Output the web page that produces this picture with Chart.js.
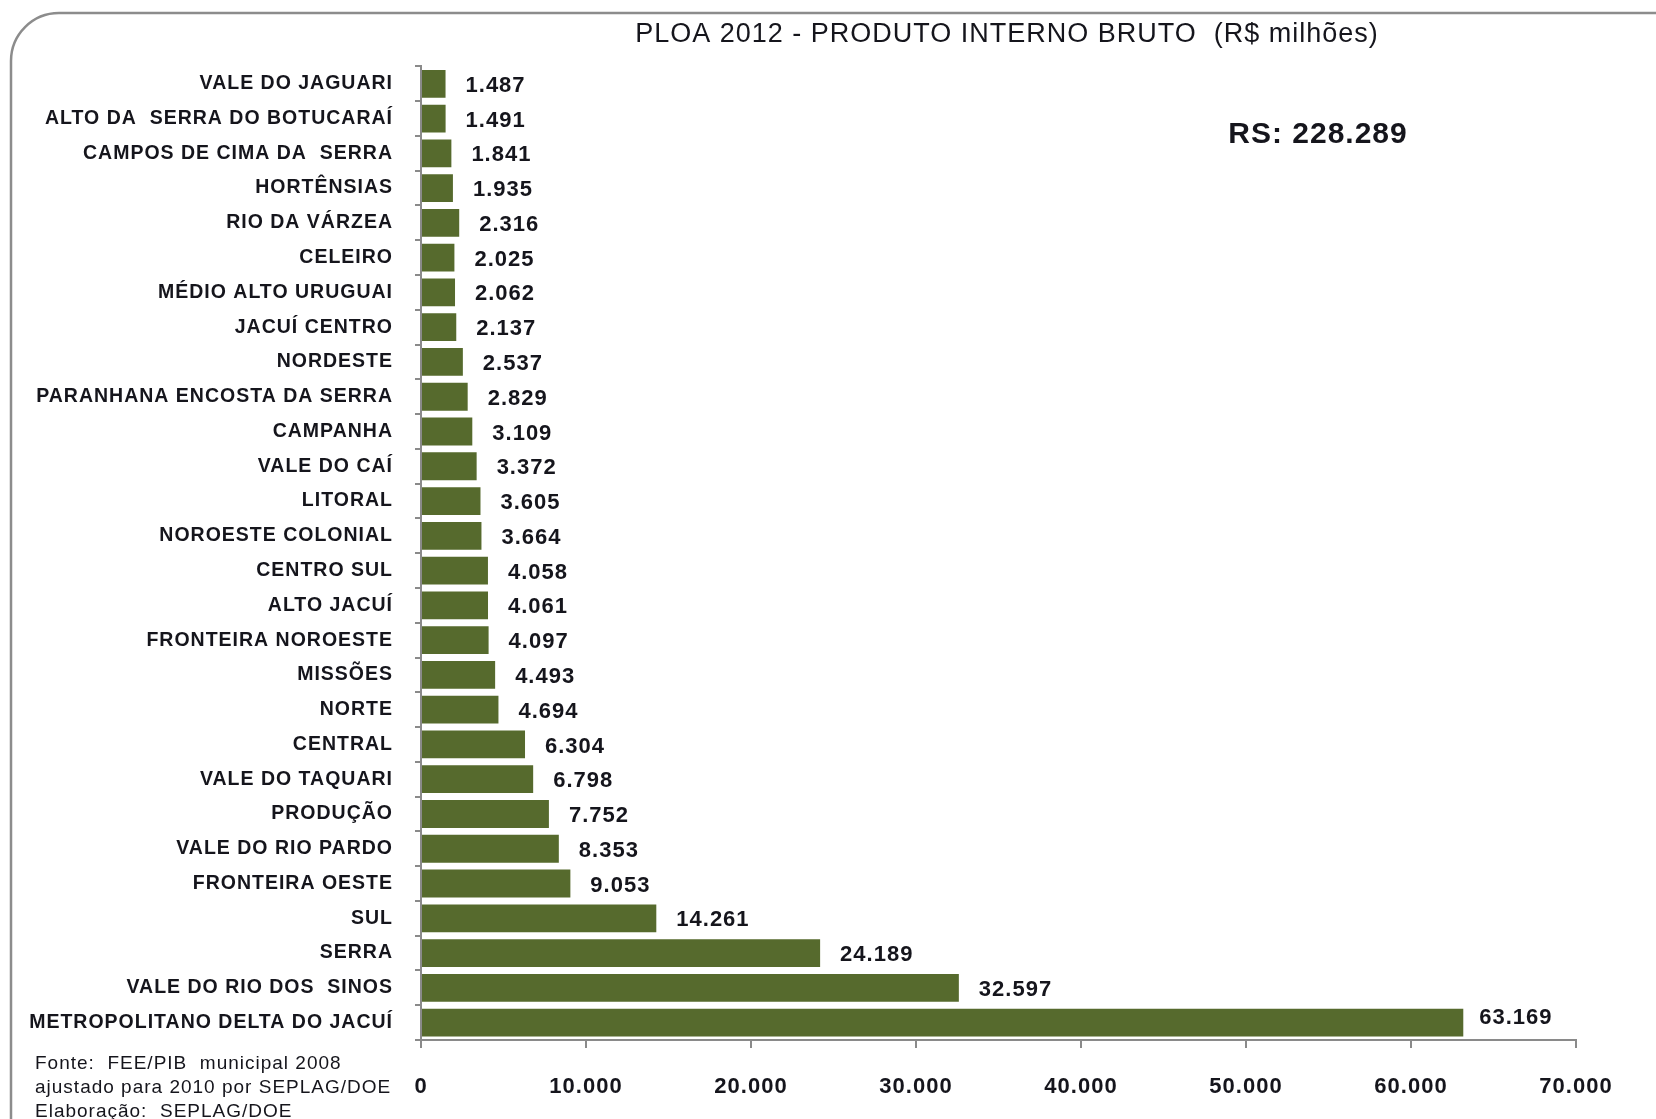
<!DOCTYPE html>
<html>
<head>
<meta charset="utf-8">
<script src="https://cdn.jsdelivr.net/npm/chart.js@4"></script>
<style>
  html, body { margin: 0; padding: 0; background: #fff; }
  #wrap { width: 1656px; height: 1119px; }
</style>
</head>
<body>
<div id="wrap"><canvas id="pibChart" width="1656" height="1119"></canvas></div>
<script>
// PIB por região (R$ milhões), de cima para baixo
const regions = [
  'VALE DO JAGUARI', 'ALTO DA  SERRA DO BOTUCARAÍ', 'CAMPOS DE CIMA DA  SERRA', 'HORTÊNSIAS',
  'RIO DA VÁRZEA', 'CELEIRO', 'MÉDIO ALTO URUGUAI', 'JACUÍ CENTRO', 'NORDESTE',
  'PARANHANA ENCOSTA DA SERRA', 'CAMPANHA', 'VALE DO CAÍ', 'LITORAL', 'NOROESTE COLONIAL',
  'CENTRO SUL', 'ALTO JACUÍ', 'FRONTEIRA NOROESTE', 'MISSÕES', 'NORTE', 'CENTRAL',
  'VALE DO TAQUARI', 'PRODUÇÃO', 'VALE DO RIO PARDO', 'FRONTEIRA OESTE', 'SUL', 'SERRA',
  'VALE DO RIO DOS  SINOS', 'METROPOLITANO DELTA DO JACUÍ'
];
const pib = [
  1487, 1491, 1841, 1935, 2316, 2025, 2062, 2137, 2537, 2829, 3109, 3372, 3605, 3664,
  4058, 4061, 4097, 4493, 4694, 6304, 6798, 7752, 8353, 9053, 14261, 24189, 32597, 63169
];
const xMax  = 70000;
const xStep = 10000;

const titleText  = '  PLOA 2012 - PRODUTO INTERNO BRUTO  (R$ milhões)';
const totalText  = 'RS: 228.289';
const sourceText = ['Fonte:  FEE/PIB  municipal 2008', 'ajustado para 2010 por SEPLAG/DOE', 'Elaboração:  SEPLAG/DOE'];

const FONT = "'Liberation Sans', Arial, sans-serif";
const BAR  = '#566a2d';
const INK  = '#15151c';

function fmt(v) {
  return String(v).replace(/\B(?=(\d{3})+(?!\d))/g, '.');
}

// frame, spacing, value labels and free texts
const decor = {
  id: 'decor',
  beforeDraw(chart) {
    const ctx = chart.ctx;
    ctx.letterSpacing = '1px';
    ctx.save();
    ctx.strokeStyle = '#8c8c8c';
    ctx.lineWidth = 2.5;
    ctx.beginPath();
    ctx.roundRect(11, 13, 1700, 1160, 48);
    ctx.stroke();
    ctx.restore();
  },
  afterDatasetsDraw(chart) {
    const ctx = chart.ctx;
    const meta = chart.getDatasetMeta(0);
    ctx.save();
    ctx.font = 'bold 22px ' + FONT;
    ctx.fillStyle = INK;
    ctx.textAlign = 'left';
    ctx.textBaseline = 'middle';
    meta.data.forEach((bar, i) => {
      const last = i === meta.data.length - 1;
      ctx.fillText(fmt(pib[i]), bar.x + (last ? 16 : 20), bar.y + (last ? -5 : 2));
    });
    ctx.restore();
  },
  afterDraw(chart) {
    const ctx = chart.ctx;
    ctx.save();
    ctx.fillStyle = INK;
    ctx.textBaseline = 'middle';
    ctx.font = 'bold 30px ' + FONT;
    ctx.textAlign = 'center';
    ctx.fillText(totalText, 1318, 135);
    ctx.font = '19px ' + FONT;
    ctx.textAlign = 'left';
    sourceText.forEach((t, i) => ctx.fillText(t, 35, 1064 + i * 24));
    ctx.restore();
  }
};

new Chart(document.getElementById('pibChart'), {
  type: 'bar',
  data: {
    labels: regions,
    datasets: [{
      data: pib,
      backgroundColor: BAR,
      borderWidth: 0,
      barPercentage: 0.8,
      categoryPercentage: 1.0
    }]
  },
  options: {
    indexAxis: 'y',
    responsive: false,
    animation: false,
    layout: { padding: { left: 0, right: 80, top: 0, bottom: 0 } },
    plugins: {
      legend: { display: false },
      tooltip: { enabled: false },
      title: {
        display: true,
        text: titleText,
        fullSize: false,
        color: INK,
        font: { family: FONT, size: 27, weight: 'normal' },
        padding: { top: 18, bottom: 16 }
      }
    },
    scales: {
      x: {
        min: 0, max: xMax,
        afterFit: s => { s.height = 79; },
        ticks: {
          stepSize: xStep,
          color: INK,
          padding: 26,
          font: { family: FONT, size: 22, weight: 'bold' },
          callback: v => fmt(v)
        },
        grid: { drawOnChartArea: false, drawTicks: true, tickLength: 8, color: '#8a8a8a', lineWidth: 2 },
        border: { display: true, color: '#8a8a8a', width: 2 }
      },
      y: {
        afterFit: s => { s.width = 421; },
        ticks: {
          color: INK,
          padding: 22,
          autoSkip: false,
          font: { family: FONT, size: 19.5, weight: 'bold' }
        },
        grid: { drawOnChartArea: false, drawTicks: true, tickLength: 6, offset: true, color: '#8a8a8a', lineWidth: 2 },
        border: { display: true, color: '#8a8a8a', width: 2 }
      }
    }
  },
  plugins: [decor]
});
</script>
</body>
</html>
